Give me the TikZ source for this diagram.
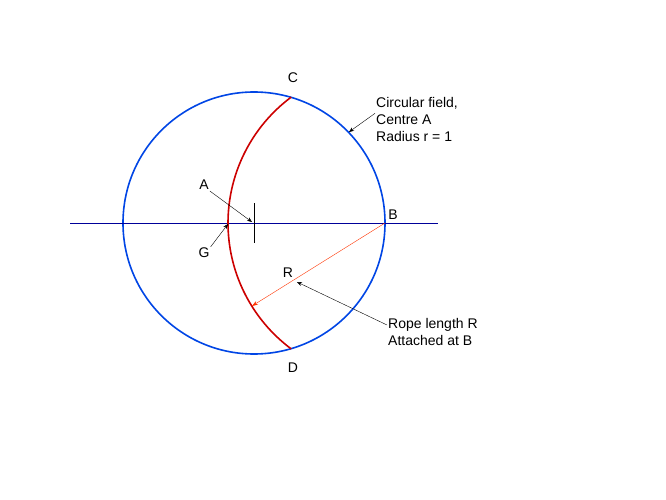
\documentclass[tikz,border=0pt]{standalone}
\usepackage{fontspec}
\setmainfont{Liberation Sans}
\usetikzlibrary{arrows.meta}
\begin{document}
\begin{tikzpicture}[x=1pt,y=-1pt,font=\fontsize{14}{17}\selectfont,
	lbl/.style={inner sep=1pt},
	ptr/.style={-{Stealth[length=5pt,width=4pt]},black}]
	\useasboundingbox (0,0) rectangle (666,500);

	% field and axis
	\draw[blue!70!cyan!90!black,line width=1.6pt] (254,223) circle (131);
	\draw[blue!60!black,line width=0.9pt] (70,223) -- (438,223);
	\draw (254,203) -- (254,243);

	% rope arc
	\draw[red!80!black,line width=1.6pt] (385,223) ++(233.3:157) arc (233.3:126.7:157);

	\coordinate (a) at (252,222);
	\coordinate (b) at (385,223);
	\coordinate (g) at (228,224);
	\coordinate (rend) at (252,306);
	\coordinate (rmid) at (297,282);
	\coordinate (rim) at (349,132);

	%labels
	\node[lbl] (C) at (293,78) {C};
	\node[lbl] (D) at (293,368) {D};
	\node[lbl] (B) at (393,215) {B};
	\node[lbl] (A) at (204,185) {A};
	\node[lbl] (G) at (204,253) {G};
	\node[lbl] (R) at (288,273) {R};
	\node[lbl,align=left,anchor=north west] (field) at (375,96) {Circular field,\\Centre A\\Radius r = 1};
	\node[lbl,align=left,anchor=north west] (rope) at (387,317) {Rope length R\\Attached at B};

	% arrows
	\draw[-{Stealth[length=6pt,width=4pt]},orange!40!red,thin] (b) -- (rend);
	\draw[ptr] (A.south east) -- (a);
	\draw[ptr] (G.north east) -- (g);
	\draw[ptr] (field.west) ++(0,-6) -- (rim);
	\draw[ptr] (rope.north west) ++(0,8) -- (rmid);
\end{tikzpicture}
\end{document}
